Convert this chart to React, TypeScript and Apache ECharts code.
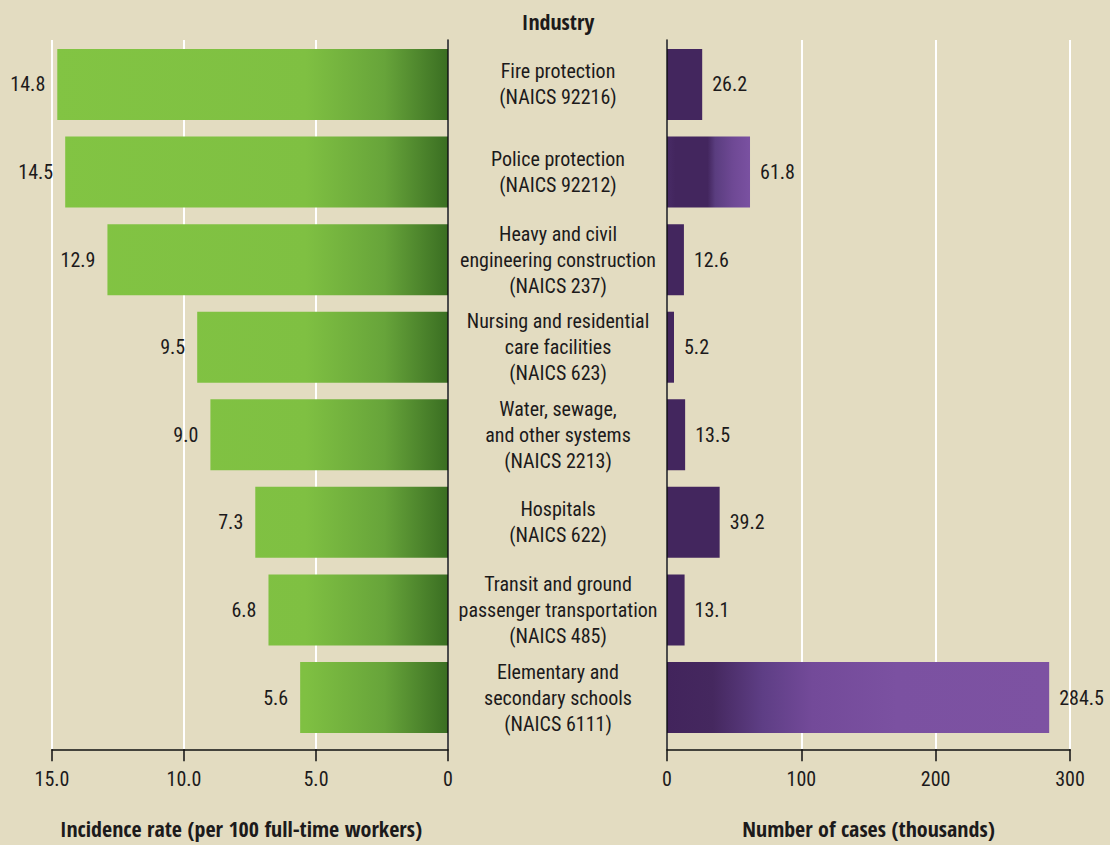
import React, { useEffect, useRef } from "react";
import * as echarts from "echarts";

const categories = [
  "Fire protection\n(NAICS 92216)",
  "Police protection\n(NAICS 92212)",
  "Heavy and civil\nengineering construction\n(NAICS 237)",
  "Nursing and residential\ncare facilities\n(NAICS 623)",
  "Water, sewage,\nand other systems\n(NAICS 2213)",
  "Hospitals\n(NAICS 622)",
  "Transit and ground\npassenger transportation\n(NAICS 485)",
  "Elementary and\nsecondary schools\n(NAICS 6111)",
];
const incidenceRates = [14.8, 14.5, 12.9, 9.5, 9.0, 7.3, 6.8, 5.6];
const casesThousands = [26.2, 61.8, 12.6, 5.2, 13.5, 39.2, 13.1, 284.5];
const rateTicks = { min: 0, max: 15, interval: 5 };
const caseTicks = { min: 0, max: 300, interval: 100 };

const FAMILY = "'Roboto Condensed', 'Open Sans', sans-serif";
const BOLD_FAMILY = "'Open Sans Condensed', 'Roboto Condensed', sans-serif";
const TEXT = "#1c1a1b";
const BG = "#e3dcc1";
const PURPLE_DARK = "#43265e";

export default function App() {
  const ref = useRef<HTMLDivElement>(null);
  useEffect(() => {
    document.body.style.margin = "0";
    const chart = echarts.init(ref.current!, null, { renderer: "svg" });
    const greenGrad = new echarts.graphic.LinearGradient(
      52, 0, 448, 0,
      [
        { offset: 0, color: "#82c443" },
        { offset: 0.64, color: "#7fc042" },
        { offset: 0.84, color: "#67a43a" },
        { offset: 1, color: "#3a6e22" },
      ],
      true
    );
    const purpleLong = new echarts.graphic.LinearGradient(0, 0, 1, 0, [
      { offset: 0, color: "#42245c" },
      { offset: 0.12, color: "#45285f" },
      { offset: 0.25, color: "#5e3e85" },
      { offset: 0.38, color: "#734a99" },
      { offset: 0.6, color: "#7b51a1" },
      { offset: 1, color: "#7d52a2" },
    ]);
    const purpleMid = new echarts.graphic.LinearGradient(0, 0, 1, 0, [
      { offset: 0, color: "#482b66" },
      { offset: 0.1, color: "#43265e" },
      { offset: 0.49, color: "#43265e" },
      { offset: 0.58, color: "#5a3d7f" },
      { offset: 0.8, color: "#6f4995" },
      { offset: 1, color: "#7a51a1" },
    ]);
    const purpleColor = (p: any) =>
      p.value > 200 ? purpleLong : p.value > 50 ? purpleMid : PURPLE_DARK;

    const txt = { color: TEXT, fontSize: 20, fontFamily: FAMILY };
    const blackLine = { show: true, lineStyle: { color: "#111", width: 1.5 } };
    const tick = { show: true, length: 12, lineStyle: { color: "#111", width: 1.5 } };
    const nameStyle = {
      color: TEXT,
      fontSize: 22,
      fontWeight: "bold" as const,
      fontFamily: BOLD_FAMILY,
    };
    const frameX = (gridIndex: number, t: any, inverse: boolean) => ({
      gridIndex,
      type: "value",
      inverse,
      min: t.min,
      max: t.max,
      interval: t.interval,
      axisLine: { show: false },
      axisTick: { show: false },
      axisLabel: { show: false },
      splitLine: { show: true, lineStyle: { color: "#ffffff", width: 2 } },
    });
    const frameY = (gridIndex: number, position: string) => ({
      gridIndex,
      type: "value",
      position,
      min: 0,
      max: 1,
      z: 5,
      axisLine: blackLine,
      axisTick: { show: false },
      axisLabel: { show: false },
      splitLine: { show: false },
    });
    chart.setOption({
      animation: false,
      backgroundColor: BG,
      graphic: [
        {
          type: "text",
          x: 558,
          y: 21,
          style: {
            text: "Industry",
            fill: TEXT,
            font: `bold 22px ${BOLD_FAMILY}`,
            textAlign: "center",
            textVerticalAlign: "middle",
          },
        },
      ],
      grid: [
        { left: 52, width: 396, top: 40.7, height: 700.6 },
        { left: 667, width: 403, top: 40.7, height: 700.6 },
        { left: 52, width: 396, top: 40, height: 709 },
        { left: 667, width: 403, top: 40, height: 709 },
      ],
      xAxis: [
        {
          gridIndex: 0,
          type: "value",
          inverse: true,
          offset: 8,
          min: rateTicks.min,
          max: rateTicks.max,
          interval: rateTicks.interval,
          axisLine: blackLine,
          axisTick: tick,
          splitLine: { show: false },
          axisLabel: {
            ...txt,
            margin: 20,
            formatter: (v: number) => (v === 0 ? "0" : v.toFixed(1)),
          },
          name: "Incidence rate (per 100 full-time workers)",
          nameLocation: "middle",
          nameGap: 68,
          nameTextStyle: { ...nameStyle, padding: [0, 18, 0, 0] },
        },
        {
          gridIndex: 1,
          type: "value",
          offset: 8,
          min: caseTicks.min,
          max: caseTicks.max,
          interval: caseTicks.interval,
          axisLine: blackLine,
          axisTick: tick,
          splitLine: { show: false },
          axisLabel: { ...txt, margin: 20 },
          name: "Number of cases (thousands)",
          nameLocation: "middle",
          nameGap: 68,
          nameTextStyle: { ...nameStyle },
        },
        frameX(2, rateTicks, true),
        frameX(3, caseTicks, false),
      ],
      yAxis: [
        {
          gridIndex: 0,
          type: "category",
          data: categories,
          inverse: true,
          position: "right",
          axisLine: { show: false },
          axisTick: { show: false },
          splitLine: { show: false },
          axisLabel: {
            ...txt,
            align: "center",
            margin: 110,
            lineHeight: 26,
            interval: 0,
          },
        },
        {
          gridIndex: 1,
          type: "category",
          data: categories,
          inverse: true,
          position: "left",
          axisLine: { show: false },
          axisTick: { show: false },
          splitLine: { show: false },
          axisLabel: { show: false },
        },
        frameY(2, "right"),
        frameY(3, "left"),
      ],
      series: [
        {
          type: "bar",
          xAxisIndex: 0,
          yAxisIndex: 0,
          data: incidenceRates,
          barWidth: 71,
          itemStyle: { color: greenGrad },
          label: {
            show: true,
            position: "left",
            distance: 12,
            ...txt,
            formatter: (p: any) => p.value.toFixed(1),
          },
        },
        {
          type: "bar",
          xAxisIndex: 1,
          yAxisIndex: 1,
          data: casesThousands,
          barWidth: 71,
          itemStyle: { color: purpleColor },
          label: {
            show: true,
            position: "right",
            distance: 10,
            ...txt,
            formatter: (p: any) => p.value.toFixed(1),
          },
        },
      ],
    });
    return () => chart.dispose();
  }, []);
  return <div ref={ref} style={{ width: 1110, height: 845 }} />;
}
